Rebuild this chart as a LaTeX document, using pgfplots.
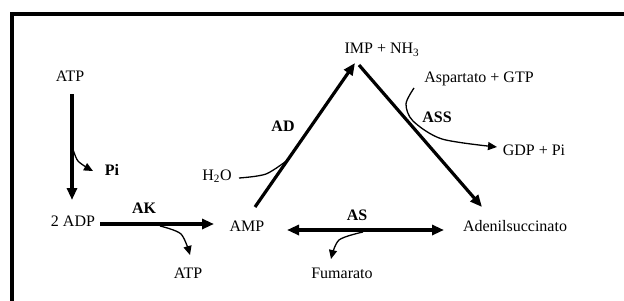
\documentclass[border=0pt]{standalone}
\usepackage{fontspec}
\setmainfont{Liberation Serif}
\usepackage{pgfplots}
\pgfplotsset{compat=1.18}
\usetikzlibrary{arrows.meta}
\begin{document}
\begin{tikzpicture}[font=\fontsize{16}{19}\selectfont]
\begin{axis}[width=624pt,height=300pt,scale only axis,
  xmin=0,xmax=624,ymin=0,ymax=300,y dir=reverse,hide axis,clip=false]
% frame
\addplot[black,line width=3.7pt] coordinates {(12,302) (12,14) (626,14)};
% main arrows
\addplot[black,line width=3.8pt,-{Triangle[length=12pt,width=10pt]}] coordinates {(72,94) (72,200)};
\addplot[black,line width=3.8pt,-{Triangle[length=12pt,width=10pt]}] coordinates {(100,224) (214,224)};
\addplot[black,line width=3.2pt,-{Triangle[length=12pt,width=10pt]}] coordinates {(255,207) (355,63)};
\addplot[black,line width=3.2pt,-{Triangle[length=12pt,width=10pt]}] coordinates {(359,65) (482,207)};
\addplot[black,line width=3.8pt,{Triangle[length=12pt,width=10pt]}-{Triangle[length=12pt,width=10pt]}] coordinates {(287,230) (444,230)};
% side curves
\addplot[black,line width=1.3pt,smooth,-{Triangle[length=9pt,width=8pt]}] coordinates {(72,146) (78,161) (93,171)};
\addplot[black,line width=1.3pt,smooth,-{Triangle[length=9pt,width=8pt]}] coordinates {(160,226) (181,234) (190,255)};
\addplot[black,line width=1.3pt,smooth] coordinates {(239,178) (266,174) (289,159)};
\addplot[black,line width=1.3pt,smooth,-{Triangle[length=9pt,width=8pt]}] coordinates {(414,88) (406,104) (413,121) (442,139) (497,147)};
\addplot[black,line width=1.3pt,smooth,-{Triangle[length=9pt,width=8pt]}] coordinates {(363,232) (339,240) (331,259)};
% labels
\node at (axis cs:70,76) {ATP};
\node at (axis cs:112,170) {\bfseries Pi};
\node at (axis cs:73,221) {2 ADP};
\node at (axis cs:144,208) {\bfseries AK};
\node at (axis cs:188,273) {ATP};
\node at (axis cs:247,226) {AMP};
\node at (axis cs:217,176) {H\textsubscript{2}O};
\node at (axis cs:283,126) {\bfseries AD};
\node at (axis cs:382,50) {IMP + NH\textsubscript{3}};
\node at (axis cs:479,79) {Aspartato + GTP};
\node at (axis cs:437,117) {\bfseries ASS};
\node at (axis cs:534,150) {GDP + Pi};
\node at (axis cs:357,215) {\bfseries AS};
\node at (axis cs:515,226) {Adenilsuccinato};
\node at (axis cs:342,273) {Fumarato};
\end{axis}
\pgfresetboundingbox
\path (current axis.south west) rectangle (current axis.north east);
\end{tikzpicture}
\end{document}
